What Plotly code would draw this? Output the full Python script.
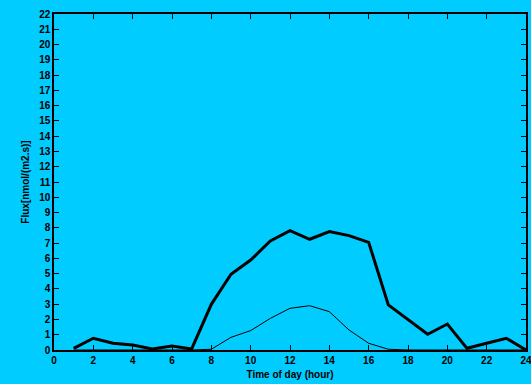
import plotly.graph_objects as go

# Hourly flux values
hours = list(range(1, 25))
flux_total = [0.11, 0.77, 0.44, 0.33, 0.07, 0.26, 0.07, 2.99, 4.96, 5.89, 7.14, 7.81,
              7.25, 7.75, 7.49, 7.05, 2.95, 1.96, 1.03, 1.70, 0.11, 0.44, 0.77, 0.0]
flux_day = [0, 0, 0, 0, 0, 0, 0, 0.05, 0.83, 1.27, 2.07, 2.73,
            2.90, 2.51, 1.31, 0.44, 0.05, 0, 0, 0, 0, 0, 0, 0]

x_ticks = list(range(0, 25, 2))
y_ticks = list(range(0, 23))

bg = "#00CCFF"
font = dict(family="Liberation Sans, Arial, sans-serif", size=10, color="black")

fig = go.Figure()
fig.add_trace(go.Scatter(x=hours, y=flux_day, mode="lines",
                         line=dict(color="black", width=1), showlegend=False))
fig.add_trace(go.Scatter(x=hours, y=flux_total, mode="lines",
                         line=dict(color="black", width=3), showlegend=False))

axis_common = dict(showgrid=False, zeroline=False, showline=True, linecolor="black",
                   linewidth=1.5, mirror="ticks", ticks="inside", ticklen=5,
                   tickcolor="black", tickwidth=1, tickfont=dict(**font),
                   automargin=False, ticklabeloverflow="allow")

fig.update_xaxes(range=[0, 24], tickvals=x_ticks, ticktext=[f"<b>{v}</b>" for v in x_ticks],
                 title=dict(text="<b>Time of day (hour)</b>", font=font, standoff=6),
                 **axis_common)
fig.update_yaxes(range=[0, 22], tickvals=y_ticks, ticktext=[f"<b>{v}</b>" for v in y_ticks],
                 title=dict(text="<b>Flux[nmol/(m2.s)]</b>", font=font, standoff=8),
                 **axis_common)

fig.update_layout(width=531, height=384, paper_bgcolor=bg, plot_bgcolor=bg,
                  margin=dict(l=54, r=5, t=14, b=34), font=font)

fig.write_html("out.html")
